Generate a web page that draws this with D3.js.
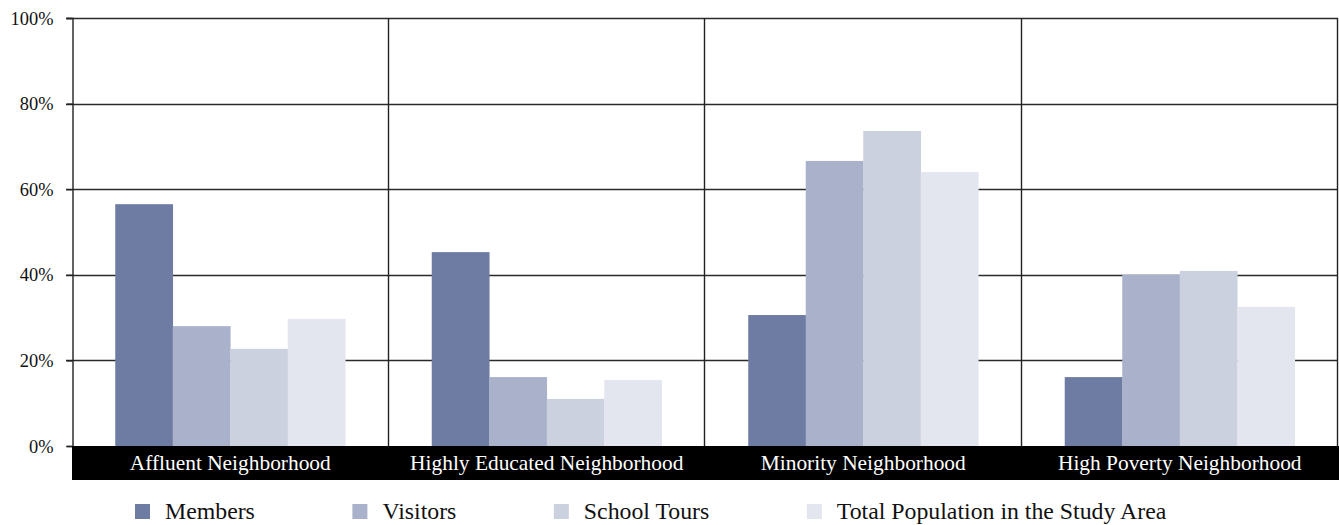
<!DOCTYPE html>
<html>
<head>
<meta charset="utf-8">
<script src="https://cdn.jsdelivr.net/npm/d3@7"></script>
<style>
  html, body { margin: 0; padding: 0; background: #fff; }
  svg { display: block; font-family: "Liberation Serif", "Times New Roman", serif; }
</style>
</head>
<body>
<svg id="chart" width="1339" height="525"></svg>
<script>
// Neighborhood types along the x axis
const categories = ["Affluent Neighborhood", "Highly Educated Neighborhood", "Minority Neighborhood", "High Poverty Neighborhood"];
// Audience groups, one bar each per neighborhood
const seriesNames = ["Members", "Visitors", "School Tours", "Total Population in the Study Area"];
// Share of each group living in each neighborhood type (fraction)
const members = [0.565, 0.453, 0.306, 0.161];
const visitors = [0.280, 0.161, 0.666, 0.400];
const schoolTours = [0.227, 0.110, 0.736, 0.409];
const totalPopulation = [0.297, 0.154, 0.640, 0.325];
const yTicks = [0, 0.2, 0.4, 0.6, 0.8, 1.0];
const seriesColors = ["#6e7ca3", "#a9b1cb", "#cbd1de", "#e3e6ef"];

const seriesValues = [members, visitors, schoolTours, totalPopulation];

const svg = d3.select("#chart");
const margin = { left: 72, right: 1338, top: 18, bottom: 446 };

const x = d3.scaleBand().domain(categories).range([margin.left, margin.right]).paddingInner(0).paddingOuter(0);
const xInner = d3.scaleBand().domain(seriesNames).range([0, x.bandwidth()]).paddingInner(0).paddingOuter(0.752);
const y = d3.scaleLinear().domain([0, 1]).range([margin.bottom, margin.top]);
const color = d3.scaleOrdinal().domain(seriesNames).range(seriesColors);

// Horizontal gridlines
svg.append("g")
  .selectAll("line")
  .data(yTicks.filter(d => d > 0))
  .join("line")
  .attr("x1", margin.left - 6)
  .attr("x2", margin.right)
  .attr("y1", d => Math.round(y(d)) + 0.5)
  .attr("y2", d => Math.round(y(d)) + 0.5)
  .attr("stroke", "#2a2a2a")
  .attr("stroke-width", 1.4);

// Left axis with percentage labels
const yAxis = d3.axisLeft(y)
  .tickValues(yTicks)
  .tickSize(6)
  .tickPadding(13)
  .tickFormat(d3.format(".0%"));
const gy = svg.append("g")
  .attr("transform", `translate(${margin.left + 0.5},0)`)
  .call(yAxis)
  .attr("font-family", "'Liberation Serif', 'Times New Roman', serif")
  .attr("font-size", 18.4);
gy.select(".domain").attr("stroke", "#222").attr("stroke-width", 1.4);
gy.selectAll(".tick line").attr("stroke", "#222").attr("stroke-width", 1.4);
gy.selectAll(".tick text")
  .attr("fill", "#111")
  .attr("dy", "0.33em");

// Bars
const groups = svg.append("g")
  .selectAll("g")
  .data(categories)
  .join("g")
  .attr("transform", d => `translate(${x(d)},0)`);

groups.selectAll("rect")
  .data((c, i) => seriesNames.map((s, j) => ({ series: s, value: seriesValues[j][i] })))
  .join("rect")
  .attr("x", d => xInner(d.series))
  .attr("width", xInner.bandwidth() + 0.3)
  .attr("y", d => y(d.value))
  .attr("height", d => y(0) - y(d.value))
  .attr("fill", d => color(d.series));

// Category separators and right frame
svg.append("g")
  .selectAll("line")
  .data(categories)
  .join("line")
  .attr("x1", d => Math.round(x(d) + x.bandwidth()) - 0.5)
  .attr("x2", d => Math.round(x(d) + x.bandwidth()) - 0.5)
  .attr("y1", margin.top)
  .attr("y2", margin.bottom)
  .attr("stroke", "#222")
  .attr("stroke-width", 1.4);

// Black label strip under the plot
svg.append("rect")
  .attr("x", margin.left)
  .attr("y", margin.bottom)
  .attr("width", 1339 - margin.left)
  .attr("height", 34)
  .attr("fill", "#000");

svg.append("g")
  .selectAll("text")
  .data(categories)
  .join("text")
  .attr("x", d => x(d) + x.bandwidth() / 2)
  .attr("y", 470)
  .attr("text-anchor", "middle")
  .attr("fill", "#fff")
  .attr("font-size", 21.4)
  .text(d => d);

// Legend
const legend = svg.append("g").attr("transform", "translate(135,0)");
let lx = 0;
seriesNames.forEach(name => {
  const item = legend.append("g").attr("transform", `translate(${lx},0)`);
  item.append("rect")
    .attr("x", 0).attr("y", 504)
    .attr("width", 15).attr("height", 15)
    .attr("fill", color(name));
  const t = item.append("text")
    .attr("x", 30).attr("y", 519)
    .attr("font-size", 23.8)
    .attr("fill", "#111")
    .text(name);
  lx += 30 + t.node().getComputedTextLength() + 97.5;
});
</script>
</body>
</html>
